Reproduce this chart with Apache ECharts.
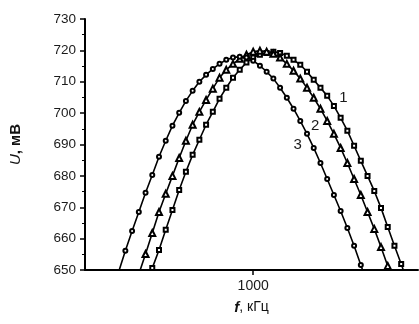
<!DOCTYPE html>
<html><head><meta charset="utf-8">
<script src="https://cdn.jsdelivr.net/npm/echarts@6/dist/echarts.min.js"></script>
<style>html,body{margin:0;padding:0;background:#fff}#c{width:419px;height:324px}</style>
</head><body><div id="c"></div>
<script>
// frequency grid, kHz
const freqs = [800,810,820,830,840,850,860,870,880,890,900,910,920,930,940,950,960,970,980,990,
  1000,1010,1020,1030,1040,1050,1060,1070,1080,1090,1100,1110,1120,1130,1140,1150,1160,1170,1180,1190,
  1200,1210,1220,1230];
// curve 1 (squares), mV
const u1 = [null,null,null,null,644.5,650.6,656.4,662.8,669.1,675.5,681.3,686.7,691.5,696.3,700.4,704.6,708.1,711.3,713.8,716.1,
  717.7,718.6,719.2,719.6,719.2,718.3,717.0,715.4,713.2,710.6,708.1,705.5,702.3,698.5,694.4,689.6,684.8,680.0,675.2,669.8,
  663.7,657.7,651.9,645.9];
// curve 2 (triangles), mV
const u2 = [null,null,null,648.7,655.1,661.8,668.5,674.3,680.0,685.7,691.2,696.3,700.4,704.2,707.8,711.3,713.8,715.7,717.3,718.6,
  719.6,719.9,719.6,718.9,717.7,715.7,713.5,711.0,708.1,704.9,701.4,697.5,693.4,688.9,684.1,679.0,673.9,668.5,663.1,657.3,
  651.3,645.2,null,null];
// curve 3 (circles), mV
const u3 = [649.4,656.1,662.4,668.5,674.6,680.3,686.1,691.2,696.0,700.1,703.9,707.1,710.0,712.2,714.1,715.7,717.0,717.7,718.0,717.7,
  716.7,715.1,713.2,711.0,708.1,704.9,701.4,697.5,693.4,688.9,684.1,679.0,673.9,668.8,663.4,657.7,651.6,645.5,null,null,
  null,null,null,null];
const curveNames = ['1','2','3'];
const curveLabelAt = [[1134,705],[1092,696],[1066,690]];
const xTickLabels = [1000];
const xMin = 750, xMax = 1245;
const yMin = 650, yMax = 730, yStep = 10;

function pairs(u){ const out=[]; for(let i=0;i<freqs.length;i++){ if(u[i]!==null) out.push([freqs[i],u[i]]); } return out; }

const font = 'Liberation Sans, Arial, sans-serif';
const symbols = ['emptyRect','emptyTriangle','emptyCircle'];
const symSizes = [4,6,4];
const series = [u1,u2,u3].map((u,i)=>({
  type:'line', data:pairs(u), symbol:symbols[i], symbolSize:symSizes[i], showAllSymbol:true,
  lineStyle:{color:'#000', width:1.6}, itemStyle:{color:'#000', borderWidth:0.9},
  clip:true, silent:true, z: 2,
  markPoint:{symbol:'circle', symbolSize:0, silent:true,
    label:{show:true, position:'inside', formatter:curveNames[i], fontSize:15, fontFamily:font, color:'#1a1a1a'},
    data:[{coord:curveLabelAt[i]}]}
}));

const chart = echarts.init(document.getElementById('c'), null, {renderer:'canvas'});
chart.setOption({
  animation:false,
  backgroundColor:'#fff',
  grid:{left:84, right:1, top:19, bottom:54, containLabel:false},
  xAxis:{type:'value', min:xMin, max:xMax,
    name:'{i|f}{r|, кГц}', nameLocation:'middle', nameGap:30,
    nameTextStyle:{rich:{i:{fontStyle:'italic', fontWeight:'bold', fontSize:15, fontFamily:font, color:'#111'},
                         r:{fontSize:14, fontFamily:font, color:'#111'}}},
    axisLine:{show:true, onZero:false, lineStyle:{color:'#000', width:2}},
    axisTick:{show:true, inside:false, length:5, customValues:xTickLabels, lineStyle:{color:'#000', width:1.5}},
    axisLabel:{show:true, customValues:xTickLabels, formatter:(v)=>String(v), margin:9, fontSize:14, fontFamily:font, color:'#1a1a1a'},
    splitLine:{show:false}},
  yAxis:{type:'value', min:yMin, max:yMax, interval:yStep,
    name:'{i|U}{b|, мВ}', nameLocation:'middle', nameGap:62, nameRotate:90,
    nameTextStyle:{rich:{i:{fontStyle:'italic', fontSize:15, fontFamily:font, color:'#111'},
                         b:{fontWeight:'bold', fontSize:15, fontFamily:font, color:'#111'}}},
    axisLine:{show:true, lineStyle:{color:'#000', width:2}},
    axisTick:{show:true, inside:false, length:5, lineStyle:{color:'#000', width:1.5}},
    minorTick:{show:true, splitNumber:2, length:3, lineStyle:{color:'#000', width:1}},
    axisLabel:{margin:9, fontSize:13.5, fontFamily:font, color:'#1a1a1a'},
    splitLine:{show:false}},
  series: series
});
</script></body></html>
